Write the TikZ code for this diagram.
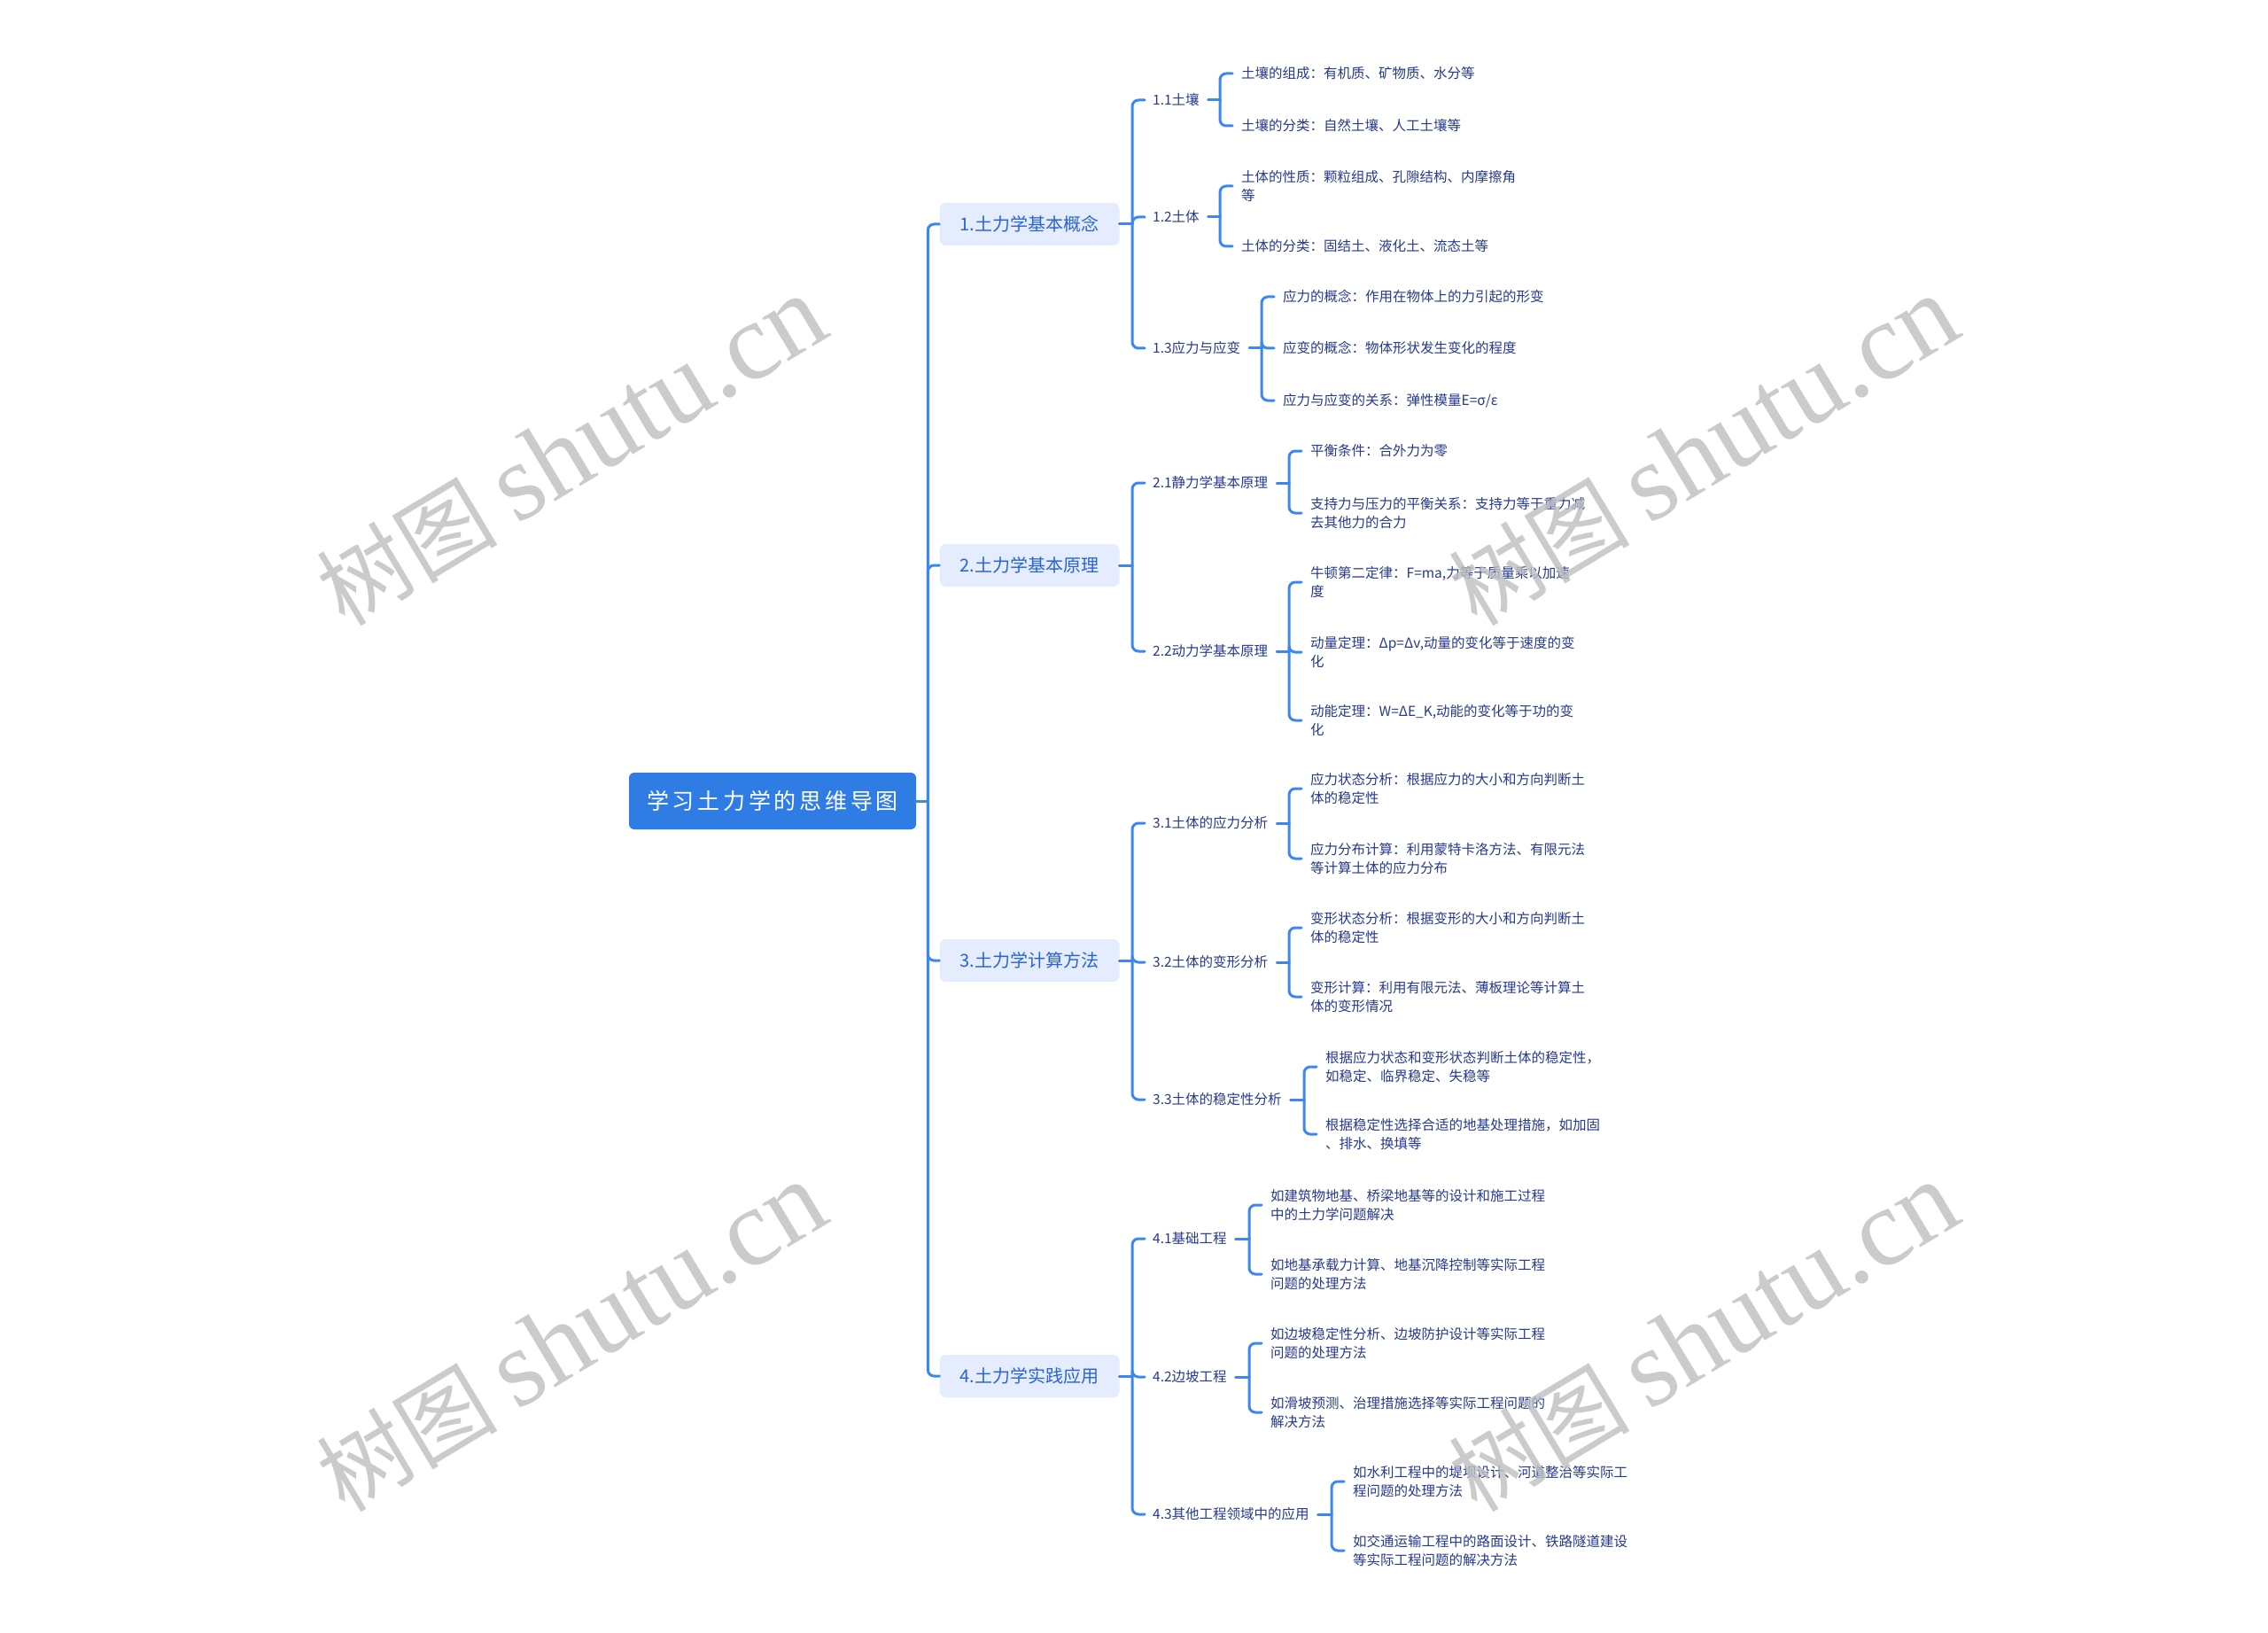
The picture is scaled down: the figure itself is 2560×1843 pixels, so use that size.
\documentclass[tikz,border=0pt]{standalone}
\usepackage{fontspec}
\setmainfont{Noto Sans CJK SC}
\newfontfamily\cjk{Noto Sans CJK SC}
\newfontfamily\rootfont[LetterSpace=15]{Noto Sans CJK SC}
\newfontfamily\wmserif{Liberation Serif}
\usetikzlibrary{calc}
\definecolor{linec}{RGB}{60,135,240}
\definecolor{rootc}{RGB}{47,125,228}
\definecolor{lonefill}{RGB}{228,236,253}
\definecolor{lonetext}{RGB}{40,100,210}
\definecolor{txt}{RGB}{38,58,142}
\definecolor{wm}{RGB}{190,190,190}
\newcommand{\mmlink}[5]{%
  \draw[lk] let \p1=(#1.east), \p2=(#2.west) in (\x1+#3,\y1) -- (\x2-#4,\y1);
  \draw[lk,rounded corners=7pt] let \p1=(#1.east), \p2=(#2.west) in (\x2-#4,\y1) |- (\x2-#5,\y2);}
\newcommand{\wmtext}{{\cjk\fontsize{102}{110}\selectfont 树图}\hspace*{22pt}{\wmserif\fontsize{124}{130}\selectfont shutu.cn}}
\begin{document}
\begin{tikzpicture}[x=1pt,y=-1pt,
  lk/.style={draw=linec,line width=3pt,line cap=round},
  rootnode/.style={fill=rootc,rounded corners=6pt,minimum width=324pt,minimum height=64pt,text=white,font=\rootfont\fontsize{25}{30}\selectfont,inner sep=0pt},
  lone/.style={fill=lonefill,rounded corners=7pt,minimum width=203pt,minimum height=48pt,text=lonetext,font=\fontsize{20}{24}\selectfont,inner sep=0pt},
  ltwo/.style={anchor=west,inner sep=0pt,text=txt,font=\fontsize{15.5}{21}\selectfont},
  lthree/.style={anchor=west,inner sep=0pt,text=txt,align=left,font=\fontsize{15.5}{21}\selectfont},
  wmark/.style={text=wm,rotate=31,opacity=0.8,inner sep=0pt}]
\useasboundingbox (0,0) rectangle (2560,1843);
\fill[white] (0,0) rectangle (2560,1843);

% root and level 1
\node[rootnode] (root) at (872,904) {学习土力学的思维导图};
\node[lone] (a1) at (1162,253) {1.土力学基本概念};
\node[lone] (a2) at (1162,638) {2.土力学基本原理};
\node[lone] (a3) at (1162,1084) {3.土力学计算方法};
\node[lone] (a4) at (1162,1553) {4.土力学实践应用};

% level 2
\node[ltwo] (b11) at (1301,113) {1.1土壤};
\node[ltwo] (b12) at (1301,245) {1.2土体};
\node[ltwo] (b13) at (1301,393) {1.3应力与应变};
\node[ltwo] (b21) at (1301,545) {2.1静力学基本原理};
\node[ltwo] (b22) at (1301,735) {2.2动力学基本原理};
\node[ltwo] (b31) at (1301,929) {3.1土体的应力分析};
\node[ltwo] (b32) at (1301,1086) {3.2土体的变形分析};
\node[ltwo] (b33) at (1301,1241) {3.3土体的稳定性分析};
\node[ltwo] (b41) at (1301,1398) {4.1基础工程};
\node[ltwo] (b42) at (1301,1554) {4.2边坡工程};
\node[ltwo] (b43) at (1301,1709) {4.3其他工程领域中的应用};

% level 3
\node[lthree] (c111) at (1401,83) {土壤的组成：有机质、矿物质、水分等};
\node[lthree] (c112) at (1401,142) {土壤的分类：自然土壤、人工土壤等};
\node[lthree] (c121) at (1401,210) {土体的性质：颗粒组成、孔隙结构、内摩擦角\\等};
\node[lthree] (c122) at (1401,278) {土体的分类：固结土、液化土、流态土等};
\node[lthree] (c131) at (1448,335) {应力的概念：作用在物体上的力引起的形变};
\node[lthree] (c132) at (1448,393) {应变的概念：物体形状发生变化的程度};
\node[lthree] (c133) at (1448,452) {应力与应变的关系：弹性模量E=σ/ε};
\node[lthree] (c211) at (1479,509) {平衡条件：合外力为零};
\node[lthree] (c212) at (1479,579) {支持力与压力的平衡关系：支持力等于重力减\\去其他力的合力};
\node[lthree] (c221) at (1479,657) {牛顿第二定律：F=ma,力等于质量乘以加速\\度};
\node[lthree] (c222) at (1479,736) {动量定理：Δp=Δv,动量的变化等于速度的变\\化};
\node[lthree] (c223) at (1479,813) {动能定理：W=ΔE\_K,动能的变化等于功的变\\化};
\node[lthree] (c311) at (1479,890) {应力状态分析：根据应力的大小和方向判断土\\体的稳定性};
\node[lthree] (c312) at (1479,969) {应力分布计算：利用蒙特卡洛方法、有限元法\\等计算土体的应力分布};
\node[lthree] (c321) at (1479,1047) {变形状态分析：根据变形的大小和方向判断土\\体的稳定性};
\node[lthree] (c322) at (1479,1125) {变形计算：利用有限元法、薄板理论等计算土\\体的变形情况};
\node[lthree] (c331) at (1496,1204) {根据应力状态和变形状态判断土体的稳定性，\\如稳定、临界稳定、失稳等};
\node[lthree] (c332) at (1496,1280) {根据稳定性选择合适的地基处理措施，如加固\\、排水、换填等};
\node[lthree] (c411) at (1434,1360) {如建筑物地基、桥梁地基等的设计和施工过程\\中的土力学问题解决};
\node[lthree] (c412) at (1434,1438) {如地基承载力计算、地基沉降控制等实际工程\\问题的处理方法};
\node[lthree] (c421) at (1434,1516) {如边坡稳定性分析、边坡防护设计等实际工程\\问题的处理方法};
\node[lthree] (c422) at (1434,1594) {如滑坡预测、治理措施选择等实际工程问题的\\解决方法};
\node[lthree] (c431) at (1527,1672) {如水利工程中的堤坝设计、河道整治等实际工\\程问题的处理方法};
\node[lthree] (c432) at (1527,1750) {如交通运输工程中的路面设计、铁路隧道建设\\等实际工程问题的解决方法};

% connectors root -> level 1
\foreach \ch in {a1,a2,a3,a4} {\mmlink{root}{\ch}{0pt}{13pt}{0pt}}
% level 1 -> level 2
\foreach \ch in {b11,b12,b13} {\mmlink{a1}{\ch}{0pt}{23pt}{9pt}}
\foreach \ch in {b21,b22} {\mmlink{a2}{\ch}{0pt}{23pt}{9pt}}
\foreach \ch in {b31,b32,b33} {\mmlink{a3}{\ch}{0pt}{23pt}{9pt}}
\foreach \ch in {b41,b42,b43} {\mmlink{a4}{\ch}{0pt}{23pt}{9pt}}
% level 2 -> level 3
\foreach \pa/\ch in {b11/c111,b11/c112,b12/c121,b12/c122,b13/c131,b13/c132,b13/c133,
  b21/c211,b21/c212,b22/c221,b22/c222,b22/c223,
  b31/c311,b31/c312,b32/c321,b32/c322,b33/c331,b33/c332,
  b41/c411,b41/c412,b42/c421,b42/c422,b43/c431,b43/c432}
  {\mmlink{\pa}{\ch}{10pt}{24pt}{10pt}}

% watermarks
\node[wmark] (w1) at (645,510) {\wmtext};
\node[wmark] (w2) at (1923,510) {\wmtext};
\node[wmark] (w3) at (645,1510) {\wmtext};
\node[wmark] (w4) at (1923,1510) {\wmtext};
\end{tikzpicture}
\end{document}
